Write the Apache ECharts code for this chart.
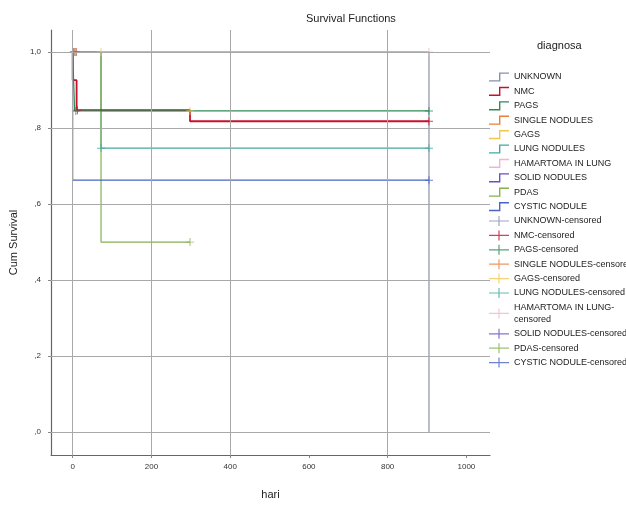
<!DOCTYPE html>
<html><head><meta charset="utf-8">
<script src="https://cdn.jsdelivr.net/npm/echarts@6/dist/echarts.min.js"></script>
<style>html,body{margin:0;padding:0;background:#fff}#c{width:626px;height:505px}</style>
</head><body><div id="c"></div>
<script>
// ---- data ----
const categories = ['UNKNOWN','NMC','PAGS','SINGLE NODULES','GAGS','LUNG NODULES','HAMARTOMA IN LUNG','SOLID NODULES','PDAS','CYSTIC NODULE'];
const colors = ['#8890ac','#c8102e','#2e8b57','#e8803a','#f0c850','#45a8a0','#f4b4cc','#6a50c0','#86b050','#4a64c4'];
// Kaplan-Meier steps: [time, survival]
const curveUNKNOWN = [[0,1],[905,0]];
const curveNMC = [[0,1],[0,0.926],[10,0.847],[298,0.818],[905,0.818]];
const curvePAGS = [[0,1],[5,0.845],[905,0.845]];
const curveSINGLE = [[0,1],[10,1]];
const curveGAGS = [[0,1],[72,0.845],[298,0.845]];
const curveLUNG = [[0,1],[72,0.747],[905,0.747]];
const curveHAMARTOMA = [[0,1],[905,1]];
const curveSOLID = [[0,1],[8,1]];
const curvePDAS = [[0,1],[72,0.5],[298,0.5]];
const curveCYSTIC = [[0,1],[0,0.663],[905,0.663]];
// censored observations
const censUNKNOWN = [[3,1]];
const censNMC = [[12,0.847],[905,0.818]];
const censPAGS = [[3,1],[8,0.845],[905,0.845]];
const censSINGLE = [[4,1],[10,1]];
const censGAGS = [[72,1],[298,0.845]];
const censLUNG = [[72,0.747],[905,0.747]];
const censHAMARTOMA = [[905,1]];
const censSOLID = [[8,1]];
const censPDAS = [[298,0.5]];
const censCYSTIC = [[905,0.663]];
const xTicks = [0,200,400,600,800,1000];
const xTickLabels = ['0','200','400','600','800','1000'];
const yTicks = [0,0.2,0.4,0.6,0.8,1];
const yTickLabels = [',0',',2',',4',',6',',8','1,0'];
const xGridValues = [0,200,400,800];

const curves = [curveUNKNOWN,curveNMC,curvePAGS,curveSINGLE,curveGAGS,curveLUNG,curveHAMARTOMA,curveSOLID,curvePDAS,curveCYSTIC];
const cens = [censUNKNOWN,censNMC,censPAGS,censSINGLE,censGAGS,censLUNG,censHAMARTOMA,censSOLID,censPDAS,censCYSTIC];

const FONT = 'Liberation Sans';
const stepIcon = 'path://M0,8.6h10v-7.8h10v1.4h-8.6v7.8h-11.4z';
const crossIcon = 'path://M0,4.4h20v1.2h-20z M9.4,0h1.2v10h-1.2z';
const censSymbol = 'path://M0,4.4h10v1.2h-10z M4.4,0h1.2v10h-1.2z';

const series = [];
// grid reference lines
series.push({
  type:'line', name:'_grid', data:[], silent:true,
  markLine:{silent:true, symbol:'none', label:{show:false},
    lineStyle:{color:'#a8a8a8', width:1, type:'solid'},
    data: xGridValues.map(v=>({xAxis:v})).concat(yTicks.map(v=>({yAxis:v})))}
});
const drawOrder = [6,4,5,8,3,7,0,9,1,2];
drawOrder.forEach(i=>{
  series.push({type:'line', name:categories[i], data:curves[i], step:'end', showSymbol:false,
    color:colors[i], lineStyle:{width: i===1?1.8:1.2, color:colors[i]}, z:3, animation:false});
});
categories.forEach((c,i)=>{
  series.push({type:'scatter', name:c+'-censored', data:cens[i], symbol:censSymbol, symbolSize:8,
    color:colors[i], itemStyle:{color:colors[i]}, z:4, animation:false});
});

const legendData = [];
categories.forEach((c)=>legendData.push({name:c, icon:stepIcon}));
categories.forEach((c)=>legendData.push({name:c+'-censored', icon:crossIcon}));

const chart = echarts.init(document.getElementById('c'), null, {renderer:'canvas'});
chart.setOption({
  animation:false,
  backgroundColor:'#fff',
  graphic:[
    {type:'text', left:306, top:13, style:{text:'Survival Functions', font:'11px "'+FONT+'"', fill:'#222', textAlign:'center'}},
    {type:'text', left:537, top:40, style:{text:'diagnosa', font:'11px "'+FONT+'"', fill:'#222'}}
  ],
  grid:{left:48, right:136, top:30, bottom:50},
  xAxis:{type:'value', min:-55, max:1060,
    name:'hari', nameLocation:'middle', nameGap:34,
    nameTextStyle:{fontFamily:FONT, fontSize:11, color:'#222'},
    axisLine:{show:true, onZero:false, lineStyle:{color:'#666', width:1.2}},
    axisTick:{show:true, length:3, customValues:xTicks, lineStyle:{color:'#888'}},
    axisLabel:{customValues:xTicks, fontFamily:FONT, fontSize:8, color:'#333', margin:8,
      formatter:v=>xTickLabels[xTicks.indexOf(v)]},
    splitLine:{show:false}},
  yAxis:{type:'value', min:-0.06, max:1.058,
    name:'Cum Survival', nameLocation:'middle', nameGap:25, nameRotate:90,
    nameTextStyle:{fontFamily:FONT, fontSize:11, color:'#222'},
    axisLine:{show:true, onZero:false, lineStyle:{color:'#666', width:1.2}},
    axisTick:{show:true, length:3, customValues:yTicks, lineStyle:{color:'#888'}},
    axisLabel:{customValues:yTicks, fontFamily:FONT, fontSize:8, color:'#333', margin:10,
      formatter:v=>yTickLabels[yTicks.indexOf(v)]},
    splitLine:{show:false}},
  legend:{orient:'vertical', left:484, top:66, itemWidth:20, itemHeight:10, itemGap:2.4,
    data:legendData, selectedMode:false,
    itemStyle:{borderWidth:0},
    textStyle:{fontFamily:FONT, fontSize:9, color:'#222', lineHeight:12},
    formatter:n=> n==='HAMARTOMA IN LUNG-censored' ? 'HAMARTOMA IN LUNG-\ncensored' : n},
  series:series
});
</script></body></html>
